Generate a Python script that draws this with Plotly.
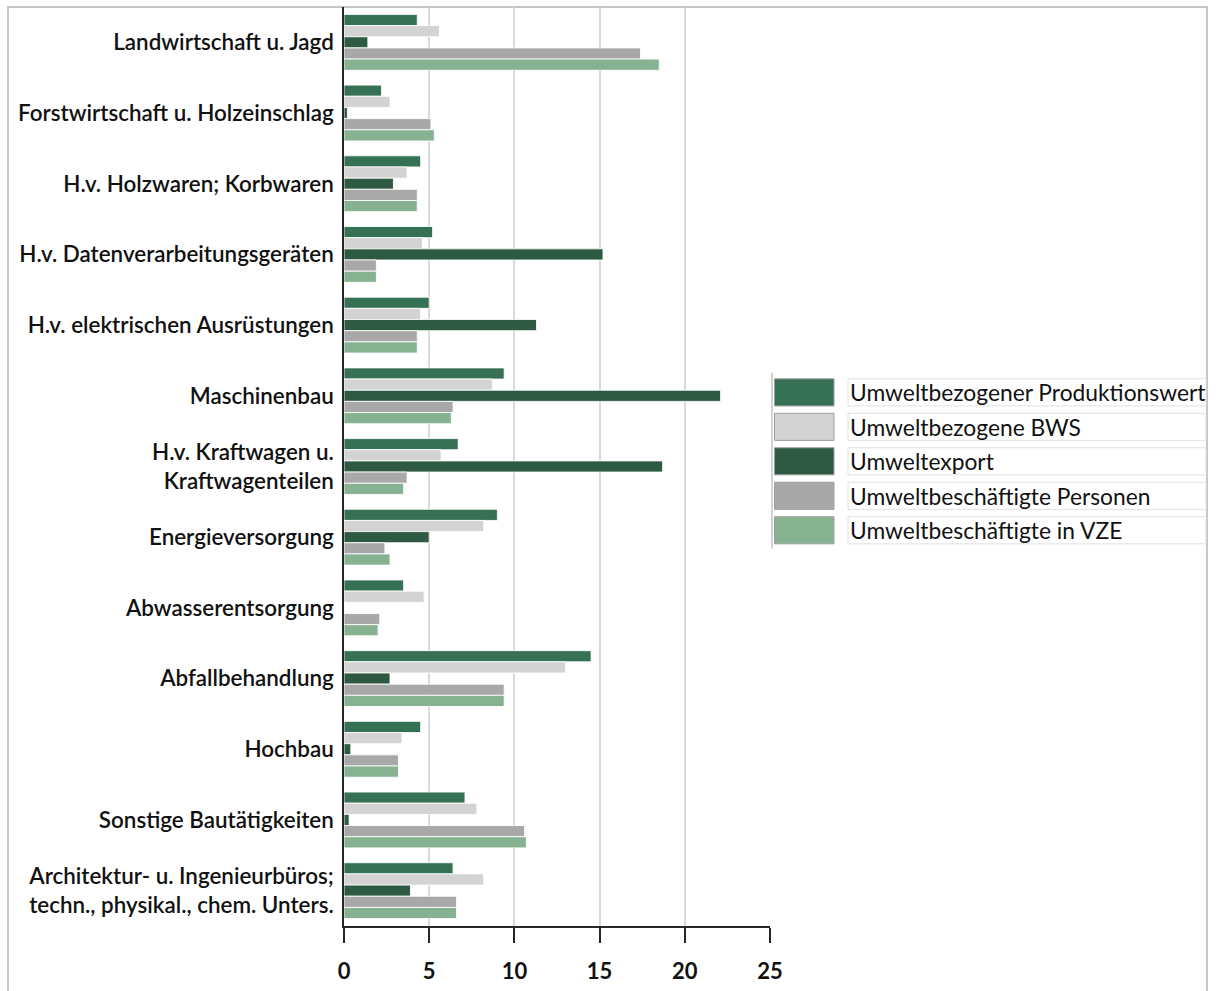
import plotly.graph_objects as go

categories = [
    "Landwirtschaft u. Jagd",
    "Forstwirtschaft u. Holzeinschlag",
    "H.v. Holzwaren; Korbwaren",
    "H.v. Datenverarbeitungsgeräten",
    "H.v. elektrischen Ausrüstungen",
    "Maschinenbau",
    "H.v. Kraftwagen u.<br>Kraftwagenteilen",
    "Energieversorgung",
    "Abwasserentsorgung",
    "Abfallbehandlung",
    "Hochbau",
    "Sonstige Bautätigkeiten",
    "Architektur- u. Ingenieurbüros;<br>techn., physikal., chem. Unters.",
]

series_names = [
    "Umweltbezogener Produktionswert",
    "Umweltbezogene BWS",
    "Umweltexport",
    "Umweltbeschäftigte Personen",
    "Umweltbeschäftigte in VZE",
]

produktionswert = [4.3, 2.2, 4.5, 5.2, 5.0, 9.4, 6.7, 9.0, 3.5, 14.5, 4.5, 7.1, 6.4]
bws = [5.6, 2.7, 3.7, 4.6, 4.5, 8.7, 5.7, 8.2, 4.7, 13.0, 3.4, 7.8, 8.2]
umweltexport = [1.4, 0.2, 2.9, 15.2, 11.3, 22.1, 18.7, 5.0, 0.0, 2.7, 0.4, 0.3, 3.9]
personen = [17.4, 5.1, 4.3, 1.9, 4.3, 6.4, 3.7, 2.4, 2.1, 9.4, 3.2, 10.6, 6.6]
vze = [18.5, 5.3, 4.3, 1.9, 4.3, 6.3, 3.5, 2.7, 2.0, 9.4, 3.2, 10.7, 6.6]

series_values = [produktionswert, bws, umweltexport, personen, vze]
colors = ["#367155", "#d3d3d3", "#2e5a43", "#a8a8a8", "#86b291"]

x_ticks = [0, 5, 10, 15, 20, 25]

W, H = 1217, 991
L, R, T, B = 344, 770, 7, 940

fig = go.Figure()
for name, vals, col in zip(series_names, series_values, colors):
    fig.add_trace(go.Bar(
        y=categories, x=vals, name=name, orientation="h",
        marker=dict(color=col, line=dict(color="rgba(255,255,255,0.85)", width=1)),
        showlegend=False,
    ))

FONT = "Lato"
TXT = "#111111"

def px(xp):
    return (xp - L) / (R - L)

def py(yp):
    return (B - yp) / (B - T)

shapes = []
annotations = []
# outer frame
shapes.append(dict(type="rect", xref="paper", yref="paper",
                   x0=px(8), x1=px(1207), y0=py(1020), y1=py(7),
                   line=dict(color="#c6c6c6", width=2), layer="below"))
# legend left border
shapes.append(dict(type="line", xref="paper", yref="paper",
                   x0=px(772), x1=px(772), y0=py(557), y1=py(378),
                   line=dict(color="#c6c6c6", width=1.5)))
row0, pitch, sh = 384.5, 35, 27.5
for i, (name, col) in enumerate(zip(series_names, colors)):
    top = row0 + i * pitch
    shapes.append(dict(type="rect", xref="paper", yref="paper",
                       x0=px(774.5), x1=px(834), y0=py(top + sh), y1=py(top),
                       fillcolor=col, line=dict(color="#9e9e9e", width=1)))
    shapes.append(dict(type="rect", xref="paper", yref="paper",
                       x0=px(848), x1=px(1206), y0=py(top + sh), y1=py(top),
                       fillcolor="rgba(0,0,0,0)", line=dict(color="#e2e2e2", width=1)))
    annotations.append(dict(xref="paper", yref="paper", x=px(848), y=py(top + sh / 2),
                            text=name, showarrow=False, xanchor="left", yanchor="middle",
                            font=dict(family=FONT, size=22.8, color=TXT)))

fig.update_layout(
    width=W, height=H,
    margin=dict(l=L, r=W - R, t=T, b=H - B, pad=0),
    paper_bgcolor="white", plot_bgcolor="white",
    barmode="group", bargap=0.21, bargroupgap=0,
    shapes=shapes, annotations=annotations,
    font=dict(family=FONT, color=TXT),
    xaxis=dict(range=[0, 25], tickvals=x_ticks, ticktext=[str(v) for v in x_ticks],
               showgrid=True, gridcolor="#d9d9d9", gridwidth=1.5,
               showline=True, linecolor="#262626", linewidth=1.5,
               ticks="outside", ticklen=15, tickwidth=1.5, tickcolor="#262626",
               ticklabelstandoff=10,
               tickfont=dict(family=FONT, size=22, color=TXT, weight="bold"),
               zeroline=False, fixedrange=True),
    yaxis=dict(autorange="reversed", showline=True, linecolor="#262626", linewidth=1.5,
               ticks="", showgrid=False, ticklabelstandoff=4,
               tickfont=dict(family=FONT, size=22.4, color=TXT, weight=600),
               fixedrange=True),
)

fig.write_html(
    "out.html",
    config={"displayModeBar": False},
    post_script=(
        "var s='margin:0;padding:0;overflow:hidden;';"
        "document.documentElement.style.cssText=s;"
        "document.body.style.cssText=s;"
    ),
)
